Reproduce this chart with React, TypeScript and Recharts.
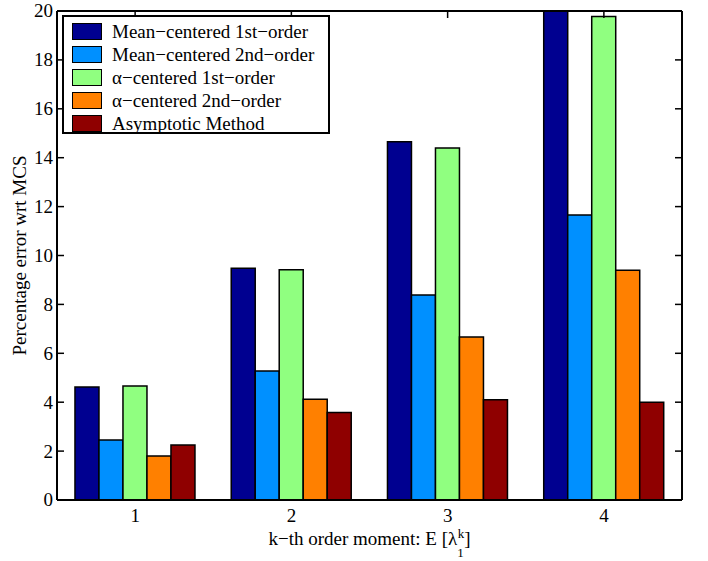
import React from 'react'
import { Bar, BarChart, Legend, XAxis, YAxis } from 'recharts'

const categories = ['1', '2', '3', '4']
const meanFirst = [4.62, 9.48, 14.65, 20.4]
const meanSecond = [2.45, 5.28, 8.38, 11.66]
const alphaFirst = [4.66, 9.42, 14.4, 19.77]
const alphaSecond = [1.8, 4.12, 6.67, 9.4]
const asymptotic = [2.25, 3.58, 4.1, 4.0]
const yTicks = [0, 2, 4, 6, 8, 10, 12, 14, 16, 18, 20]

const series = [
  { key: 'meanFirst', name: 'Mean\u2212centered 1st\u2212order', color: '#000090' },
  { key: 'meanSecond', name: 'Mean\u2212centered 2nd\u2212order', color: '#0090ff' },
  { key: 'alphaFirst', name: '\u03b1\u2212centered 1st\u2212order', color: '#90ff80' },
  { key: 'alphaSecond', name: '\u03b1\u2212centered 2nd\u2212order', color: '#ff8000' },
  { key: 'asymptotic', name: 'Asymptotic Method', color: '#8f0000' },
]

const data = categories.map((k, i) => ({
  k,
  meanFirst: meanFirst[i],
  meanSecond: meanSecond[i],
  alphaFirst: alphaFirst[i],
  alphaSecond: alphaSecond[i],
  asymptotic: asymptotic[i],
}))

const FONT = '"Liberation Serif", "Times New Roman", serif'
const W = 708
const H = 561
const MARGIN = { top: 10, right: 25, bottom: 60, left: 56 }
const TICK = 7
// edges of the plot box (margin + 1px axis strip)
const BOX_RIGHT = W - MARGIN.right - 1
const BOX_TOP = MARGIN.top + 1

// left axis ticks: label, inward tick, and the matching inward tick on the right edge
const leftTick = (p: any) => (
  <g>
    <line x1={p.x + 4} x2={p.x + 4 + TICK} y1={p.y} y2={p.y} stroke="#000" strokeWidth={1.5} />
    <line x1={BOX_RIGHT} x2={BOX_RIGHT - TICK} y1={p.y} y2={p.y} stroke="#000" strokeWidth={1.5} />
    <text x={p.x} y={p.y} dy="0.34em" textAnchor="end" fontFamily={FONT} fontSize={19} fill="#000">
      {p.payload.value}
    </text>
  </g>
)

// bottom axis ticks: label plus the inward tick on the top edge
const bottomTick = (p: any) => (
  <g>
    <line x1={p.x} x2={p.x} y1={BOX_TOP} y2={BOX_TOP + TICK} stroke="#000" strokeWidth={1.5} />
    <text x={p.x} y={p.y} dy="0.72em" textAnchor="middle" fontFamily={FONT} fontSize={19} fill="#000">
      {p.payload.value}
    </text>
  </g>
)

const XTitle = (props: any) => {
  const vb = props.viewBox || { x: 0, y: 0, width: 0 }
  return (
    <text
      x={vb.x + vb.width / 2}
      y={vb.y + 45}
      textAnchor="middle"
      fontFamily={FONT}
      fontSize={19}
      fill="#000"
    >
      <tspan>k{'\u2212'}th order moment: E [{'\u03bb'}</tspan>
      <tspan fontSize={13} dy={12}>1</tspan>
      <tspan fontSize={13} dx={-6} dy={-19}>k</tspan>
      <tspan dy={7}>]</tspan>
    </text>
  )
}

const YTitle = (props: any) => {
  const vb = props.viewBox || { x: 0, y: 0, height: 0 }
  const cx = vb.x - 30
  const cy = vb.y + vb.height / 2
  return (
    <text
      x={cx}
      y={cy}
      transform={`rotate(-90 ${cx} ${cy})`}
      textAnchor="middle"
      fontFamily={FONT}
      fontSize={19}
      fill="#000"
    >
      Percentage error wrt MCS
    </text>
  )
}

const LegendBox = () => (
  <div
    style={{
      border: '2px solid #000',
      background: '#fff',
      width: 268,
      height: 119,
      paddingTop: 3,
      boxSizing: 'border-box',
      fontFamily: FONT,
      fontSize: 19,
      color: '#000',
    }}
  >
    {series.map((s) => (
      <div key={s.key} style={{ display: 'flex', alignItems: 'center', height: 23 }}>
        <span
          style={{
            display: 'inline-block',
            width: 30,
            height: 17,
            marginLeft: 8,
            marginRight: 10,
            background: s.color,
            border: '1.5px solid #000',
            boxSizing: 'border-box',
          }}
        />
        <span style={{ whiteSpace: 'nowrap' }}>{s.name}</span>
      </div>
    ))}
  </div>
)

export default function App() {
  return (
    <div
      style={{
        position: 'absolute',
        left: 0,
        top: 0,
        width: W,
        height: H,
        background: '#fff',
        fontFamily: FONT,
      }}
    >
      <BarChart
        width={W}
        height={H}
        data={data}
        margin={MARGIN}
        barGap={0}
        barCategoryGap="11.5%"
      >
        <XAxis
          dataKey="k"
          height={1}
          axisLine={{ stroke: '#000', strokeWidth: 2 }}
          tickLine={false}
          tickSize={6}
          tickMargin={2}
          tick={bottomTick}
          label={<XTitle />}
        />
        <XAxis
          xAxisId="top"
          dataKey="k"
          orientation="top"
          height={1}
          axisLine={{ stroke: '#000', strokeWidth: 2 }}
          tickLine={false}
          tick={false}
        />
        <YAxis
          width={1}
          domain={[0, 20]}
          ticks={yTicks}
          allowDataOverflow
          interval={0}
          axisLine={{ stroke: '#000', strokeWidth: 2 }}
          tickLine={false}
          tickSize={-TICK}
          tickMargin={11}
          tick={leftTick}
          label={<YTitle />}
        />
        <YAxis
          yAxisId="right"
          orientation="right"
          width={1}
          domain={[0, 20]}
          axisLine={{ stroke: '#000', strokeWidth: 2 }}
          tickLine={false}
          tick={false}
        />
        <Legend
          layout="vertical"
          align="center"
          verticalAlign="middle"
          content={() => <LegendBox />}
          wrapperStyle={{ position: 'absolute', left: 62, top: 15, width: 268, height: 119 }}
        />
        {series.map((s) => (
          <Bar
            key={s.key}
            dataKey={s.key}
            name={s.name}
            fill={s.color}
            stroke="#000"
            strokeWidth={1.5}
            isAnimationActive={false}
          />
        ))}
      </BarChart>
    </div>
  )
}
